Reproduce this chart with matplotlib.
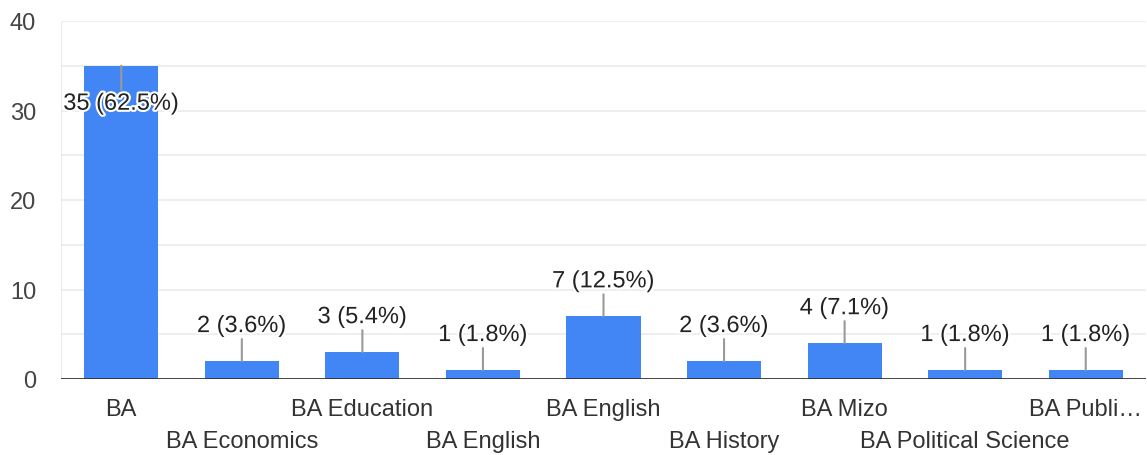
import matplotlib
matplotlib.use("Agg")
import matplotlib.pyplot as plt
import matplotlib.patheffects as pe

plt.rcParams['font.family'] = ['Liberation Sans', 'DejaVu Sans']

# Данные
categories = ['BA', 'BA Economics', 'BA Education', 'BA English', 'BA English',
              'BA History', 'BA Mizo', 'BA Political Science', 'BA Publi…']
counts = [35, 2, 3, 1, 7, 2, 4, 1, 1]
percents = [62.5, 3.6, 5.4, 1.8, 12.5, 3.6, 7.1, 1.8, 1.8]

bar_color = '#4285f4'
fs = 17

fig = plt.figure(figsize=(11.47, 4.56), dpi=100)
ax = fig.add_axes([61 / 1147, 76 / 456, 1085 / 1147, 358 / 456])

x = list(range(len(categories)))
ax.bar(x, counts, width=0.615, color=bar_color, zorder=3)

ax.set_xlim(-0.5, len(categories) - 0.5)
ax.set_ylim(0, 40)

# сетка
for v in range(5, 41, 5):
    ax.axhline(v, color='#ebebeb', lw=1.2, zorder=1)
ax.axhline(0, color='#333333', lw=2, zorder=4)
ax.axvline(-0.5, color='#e6e6e6', lw=1.2, zorder=1)

for s in ax.spines.values():
    s.set_visible(False)

ax.set_yticks([0, 10, 20, 30, 40])
ax.tick_params(axis='y', length=0, pad=18, labelsize=fs, labelcolor='#444444')
ax.set_xticks([])

# подписи категорий в два ряда
for i, name in enumerate(categories):
    off = -30 if i % 2 == 0 else -62
    ax.annotate(name, xy=(i, 0), xycoords='data', xytext=(0, off),
                textcoords='offset pixels', ha='center', va='center',
                fontsize=fs, color='#333333', annotation_clip=False)

# подписи значений с выносками
for i, (c, p) in enumerate(zip(counts, percents)):
    label = f'{c} ({p}%)'
    if c > 20:
        line_off, text_off = -24, -38
    else:
        line_off, text_off = 22, 35
    ax.annotate('', xy=(i, c), xytext=(0, line_off), textcoords='offset pixels',
                arrowprops=dict(arrowstyle='-', color='#999999', lw=1.5,
                                shrinkA=0, shrinkB=0), zorder=5)
    ax.annotate(label, xy=(i, c), xytext=(0, text_off), textcoords='offset pixels',
                ha='center', va='center', fontsize=fs, color='#222222', zorder=6,
                path_effects=[pe.withStroke(linewidth=3, foreground='white')])

fig.savefig('out.png', dpi=100)
